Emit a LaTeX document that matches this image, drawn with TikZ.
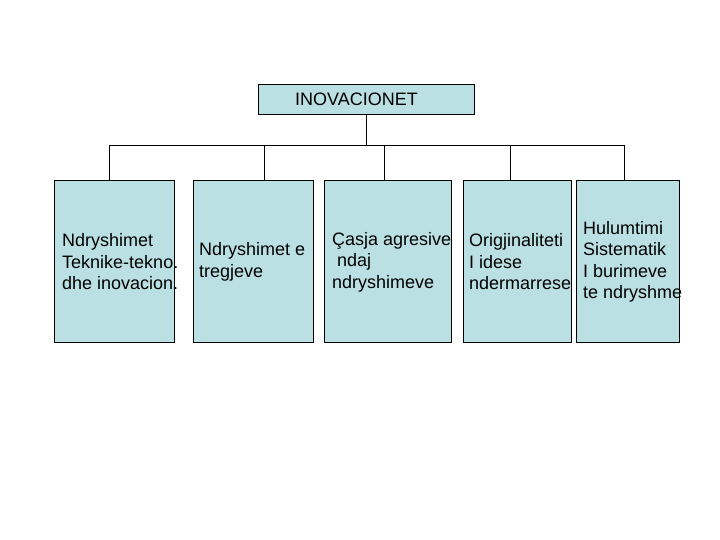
\documentclass[tikz,border=0pt]{standalone}
\usepackage{fontspec}
\setmainfont{Liberation Sans}
\usetikzlibrary{positioning}
\definecolor{boxblue}{RGB}{187,224,227}
\tikzset{
  box/.style={draw, fill=boxblue, line width=0.8pt, inner sep=0pt, anchor=north west, minimum height=162pt},
  boxtext/.style={anchor=west, align=left, inner sep=0pt, font=\fontsize{18}{21.5}\selectfont},
  wire/.style={line width=0.8pt},
}

\begin{document}
\begin{tikzpicture}[x=1pt,y=-1pt]
  \useasboundingbox (0,0) rectangle (720,540);
  % Nodes
  \node[box, minimum width=216pt, minimum height=30pt] (top) at (258,84) {};
  \node[boxtext] (toptext) at (295,99.5) {INOVACIONET};

  \node[box, minimum width=120pt] (b1) at (54,180) {};
  \node[box, minimum width=120pt] (b2) at (193,180) {};
  \node[box, minimum width=127pt] (b3) at (324,180) {};
  \node[box, minimum width=108pt] (b4) at (463,180) {};
  \node[box, minimum width=103pt] (b5) at (576,180) {};

  \node[boxtext] (t1) at (62,262) {Ndryshimet\\Teknike-tekno.\\dhe inovacion.};
  \node[boxtext] (t2) at (199,262) {Ndryshimet e\\tregjeve};
  \node[boxtext] (t3) at (332,262) {Çasja agresive\\\ ndaj\\ndryshimeve};
  \node[boxtext] (t4) at (469,262) {Origjinaliteti\\I idese\\ndermarrese};
  \node[boxtext] (t5) at (583,262) {Hulumtimi\\Sistematik\\I burimeve\\te ndryshme};

  % Connectors
  \coordinate (bus) at (366,145);
  \coordinate (d1) at (109,145);
  \coordinate (d2) at (264,145);
  \coordinate (d3) at (384,145);
  \coordinate (d4) at (510,145);
  \coordinate (d5) at (624,145);
  \draw[wire] (bus |- top.south) -- (bus);
  \draw[wire] (d1) -- (d5);
  \foreach \i in {1,...,5}
    \draw[wire] (d\i) -- (d\i |- b\i.north);
\end{tikzpicture}
\end{document}
